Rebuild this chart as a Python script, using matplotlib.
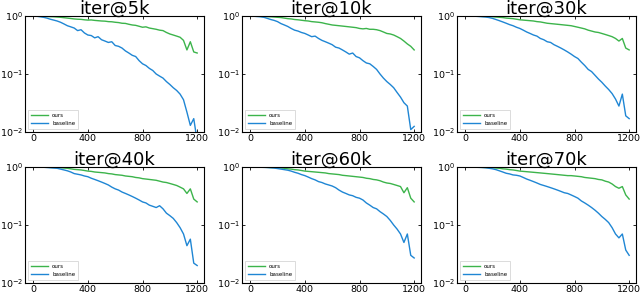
import numpy as np
import matplotlib
matplotlib.use("Agg")
import matplotlib.pyplot as plt
from matplotlib.ticker import FixedLocator, NullLocator

titles = ["iter@5k", "iter@10k", "iter@30k", "iter@40k", "iter@60k", "iter@70k"]
steps = np.arange(0, 1201, 25)
x_ticks = [0, 400, 800, 1200]

ours_5k = [1.00,0.995,0.99,0.985,0.98,0.975,0.97,0.96,0.95,0.935,0.92,0.905,0.89,0.88,0.875,0.86,0.85,0.855,0.84,0.83,0.82,0.815,0.80,0.795,0.78,0.77,0.75,0.745,0.72,0.70,0.69,0.665,0.64,0.65,0.62,0.605,0.59,0.57,0.56,0.52,0.49,0.47,0.45,0.43,0.38,0.26,0.36,0.24,0.23]
base_5k = [1.00,0.99,0.97,0.95,0.92,0.88,0.85,0.82,0.78,0.73,0.68,0.65,0.62,0.56,0.58,0.51,0.47,0.46,0.42,0.44,0.39,0.37,0.35,0.36,0.31,0.30,0.28,0.25,0.23,0.21,0.20,0.17,0.15,0.14,0.125,0.115,0.10,0.092,0.085,0.074,0.066,0.058,0.052,0.045,0.036,0.022,0.013,0.017,0.007]

ours_10k = [1.00,0.995,0.99,0.985,0.98,0.975,0.97,0.96,0.95,0.94,0.92,0.90,0.89,0.87,0.86,0.845,0.83,0.82,0.80,0.79,0.78,0.765,0.74,0.72,0.70,0.69,0.68,0.67,0.66,0.65,0.64,0.63,0.61,0.60,0.61,0.59,0.59,0.58,0.56,0.53,0.50,0.49,0.47,0.44,0.41,0.37,0.33,0.30,0.26]
base_10k = [1.00,0.99,0.98,0.97,0.95,0.91,0.87,0.84,0.80,0.74,0.70,0.66,0.61,0.57,0.55,0.52,0.50,0.47,0.44,0.45,0.41,0.38,0.36,0.34,0.32,0.29,0.28,0.26,0.24,0.22,0.23,0.20,0.19,0.17,0.155,0.15,0.135,0.12,0.10,0.085,0.074,0.066,0.058,0.048,0.040,0.032,0.028,0.011,0.0125]

ours_30k = [1.00,1.00,0.995,0.99,0.99,0.985,0.98,0.975,0.97,0.96,0.95,0.94,0.92,0.91,0.90,0.88,0.86,0.85,0.84,0.83,0.82,0.80,0.79,0.77,0.75,0.74,0.73,0.72,0.71,0.70,0.69,0.68,0.66,0.64,0.62,0.60,0.57,0.55,0.53,0.52,0.50,0.48,0.46,0.44,0.41,0.37,0.41,0.28,0.26]
base_30k = [1.00,1.00,0.995,0.99,0.98,0.97,0.96,0.94,0.91,0.87,0.83,0.79,0.75,0.71,0.68,0.64,0.61,0.57,0.53,0.50,0.47,0.45,0.41,0.39,0.36,0.35,0.32,0.30,0.28,0.26,0.24,0.22,0.20,0.185,0.16,0.14,0.12,0.11,0.095,0.082,0.072,0.062,0.054,0.046,0.037,0.028,0.045,0.019,0.017]

ours_40k = [1.00,1.00,0.995,0.99,0.99,0.985,0.98,0.975,0.97,0.96,0.95,0.93,0.91,0.90,0.89,0.87,0.85,0.84,0.82,0.81,0.80,0.79,0.77,0.76,0.74,0.73,0.72,0.70,0.69,0.68,0.66,0.65,0.63,0.62,0.61,0.60,0.59,0.57,0.55,0.54,0.52,0.50,0.48,0.45,0.42,0.35,0.42,0.28,0.25]
base_40k = [1.00,1.00,0.995,0.99,0.98,0.97,0.96,0.95,0.92,0.89,0.86,0.82,0.77,0.75,0.73,0.70,0.68,0.64,0.61,0.58,0.55,0.52,0.49,0.45,0.42,0.40,0.37,0.35,0.33,0.31,0.29,0.27,0.25,0.24,0.22,0.21,0.20,0.215,0.19,0.16,0.145,0.13,0.11,0.09,0.07,0.044,0.057,0.022,0.02]

ours_60k = [1.00,1.00,0.995,0.99,0.99,0.985,0.98,0.975,0.97,0.96,0.95,0.93,0.92,0.90,0.89,0.87,0.85,0.84,0.83,0.82,0.81,0.80,0.79,0.77,0.76,0.75,0.74,0.72,0.71,0.70,0.69,0.68,0.67,0.66,0.64,0.63,0.61,0.60,0.58,0.55,0.53,0.52,0.50,0.48,0.46,0.36,0.44,0.29,0.25]
base_60k = [1.00,1.00,0.995,0.99,0.985,0.98,0.97,0.96,0.94,0.92,0.90,0.88,0.85,0.81,0.78,0.74,0.71,0.67,0.63,0.60,0.56,0.54,0.51,0.49,0.47,0.44,0.40,0.37,0.35,0.33,0.32,0.30,0.29,0.27,0.24,0.22,0.20,0.19,0.17,0.155,0.14,0.12,0.10,0.085,0.07,0.05,0.07,0.03,0.027]

ours_70k = [1.00,1.00,0.995,0.99,0.99,0.985,0.98,0.975,0.97,0.96,0.95,0.93,0.92,0.90,0.89,0.87,0.85,0.84,0.83,0.82,0.81,0.80,0.79,0.78,0.77,0.76,0.75,0.74,0.73,0.72,0.71,0.71,0.70,0.69,0.68,0.66,0.65,0.64,0.63,0.61,0.60,0.57,0.55,0.51,0.46,0.43,0.46,0.33,0.28]
base_70k = [1.00,1.00,0.995,0.99,0.985,0.98,0.97,0.95,0.93,0.90,0.86,0.82,0.78,0.76,0.73,0.72,0.70,0.66,0.62,0.59,0.56,0.53,0.50,0.48,0.46,0.44,0.42,0.40,0.38,0.36,0.35,0.33,0.31,0.29,0.26,0.24,0.22,0.20,0.18,0.16,0.14,0.125,0.11,0.09,0.07,0.06,0.07,0.037,0.03]

ours_all = [ours_5k, ours_10k, ours_30k, ours_40k, ours_60k, ours_70k]
base_all = [base_5k, base_10k, base_30k, base_40k, base_60k, base_70k]

green = "#3cb44b"
blue = "#1f86d4"

W, H = 640, 294
fig = plt.figure(figsize=(W / 100, H / 100), dpi=100)

lefts = [25, 242, 457]
tops = [16, 167]
aw, ah = 179, 116

for i in range(6):
    r, c = divmod(i, 3)
    l = lefts[c]
    t = tops[r]
    ax = fig.add_axes([l / W, 1 - (t + ah) / H, aw / W, ah / H])
    ax.plot(steps, ours_all[i], color=green, lw=1.0, label="ours")
    ax.plot(steps, base_all[i], color=blue, lw=1.0, label="baseline")
    ax.set_yscale("log")
    ax.set_ylim(1e-2, 1.0)
    ax.set_xlim(-60, 1250)
    ax.xaxis.set_major_locator(FixedLocator(x_ticks))
    ax.yaxis.set_major_locator(FixedLocator([1e-2, 1e-1, 1.0]))
    ax.yaxis.set_minor_locator(NullLocator())
    ax.tick_params(axis="both", which="major", direction="in", top=True, right=True,
                   length=2.5, width=0.6, labelsize=6.8, pad=1.5)
    for s in ax.spines.values():
        s.set_linewidth(0.8)
    ax.set_title(titles[i], fontsize=13, pad=1.5)
    leg = ax.legend(loc="lower left", fontsize=4, frameon=True, fancybox=False,
                    handlelength=3, borderpad=0.5, labelspacing=0.5,
                    borderaxespad=0.6)
    leg.get_frame().set_edgecolor("0.8")
    leg.get_frame().set_linewidth(0.6)

fig.savefig("out.png", dpi=100)
